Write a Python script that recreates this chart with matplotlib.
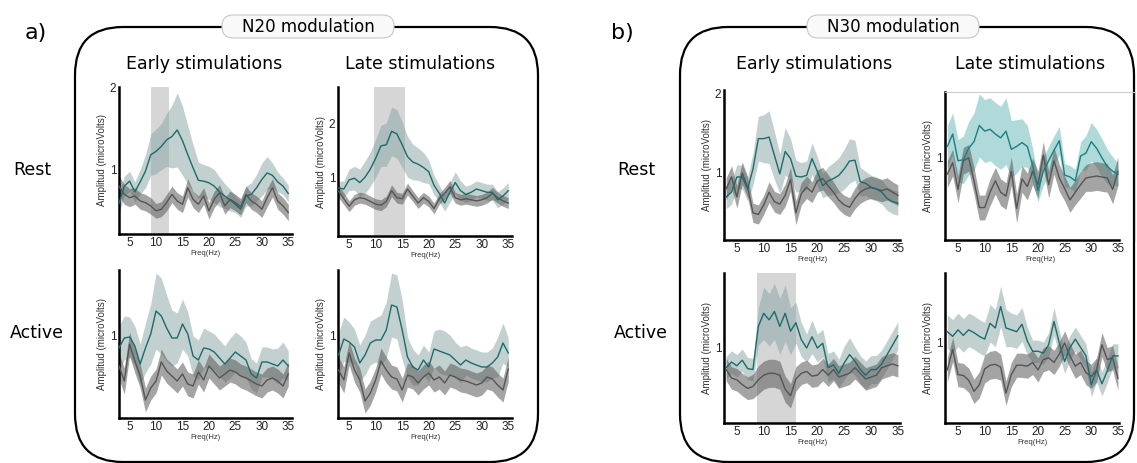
import numpy as np
import matplotlib
matplotlib.use('Agg')
import matplotlib.pyplot as plt
from matplotlib.patches import FancyBboxPatch

W, H = 1137, 463

freqs = np.arange(3, 36)
xticks = [5, 10, 15, 20, 25, 30, 35]

# ---- N20, Rest, Early
n20_rest_early_teal = [0.59, 0.80, 0.86, 0.73, 0.85, 0.98, 1.18, 1.22, 1.28, 1.36, 1.40, 1.48, 1.35, 1.18, 1.02, 0.87, 0.86,
                       0.84, 0.80, 0.73, 0.68, 0.63, 0.58, 0.52, 0.68, 0.70, 0.78, 0.88, 0.96, 0.93, 0.85, 0.80, 0.71]
n20_rest_early_teal_sd = [0.12, 0.12, 0.12, 0.12, 0.15, 0.20, 0.25, 0.27, 0.28, 0.32, 0.38, 0.45, 0.42, 0.35, 0.28, 0.22, 0.20,
                          0.20, 0.20, 0.18, 0.15, 0.13, 0.10, 0.10, 0.12, 0.14, 0.16, 0.20, 0.20, 0.15, 0.12, 0.10, 0.10]
n20_rest_early_grey = [0.80, 0.70, 0.66, 0.68, 0.62, 0.60, 0.56, 0.50, 0.52, 0.60, 0.70, 0.62, 0.58, 0.78, 0.64, 0.58, 0.68,
                       0.50, 0.64, 0.72, 0.56, 0.64, 0.60, 0.55, 0.70, 0.62, 0.58, 0.52, 0.66, 0.78, 0.62, 0.56, 0.48]
n20_rest_early_grey_sd = [0.12, 0.12, 0.11, 0.10, 0.10, 0.10, 0.10, 0.09, 0.09, 0.10, 0.10, 0.10, 0.10, 0.11, 0.10, 0.10, 0.10,
                          0.10, 0.10, 0.10, 0.10, 0.10, 0.10, 0.10, 0.10, 0.10, 0.10, 0.10, 0.11, 0.11, 0.10, 0.10, 0.10]

# ---- N20, Rest, Late
n20_rest_late_teal = [0.80, 0.78, 0.95, 0.98, 0.90, 1.00, 1.15, 1.35, 1.58, 1.60, 1.85, 1.80, 1.60, 1.38, 1.28, 1.24, 1.18,
                      1.10, 0.85, 0.70, 0.52, 0.72, 0.90, 0.75, 0.68, 0.72, 0.78, 0.75, 0.72, 0.72, 0.58, 0.65, 0.75]
n20_rest_late_teal_sd = [0.12, 0.15, 0.20, 0.22, 0.25, 0.30, 0.32, 0.35, 0.38, 0.40, 0.45, 0.45, 0.42, 0.38, 0.33, 0.30, 0.28,
                         0.22, 0.18, 0.15, 0.15, 0.18, 0.20, 0.18, 0.15, 0.15, 0.15, 0.15, 0.15, 0.15, 0.15, 0.15, 0.15]
n20_rest_late_grey = [0.74, 0.60, 0.46, 0.58, 0.62, 0.60, 0.55, 0.50, 0.48, 0.55, 0.75, 0.62, 0.60, 0.78, 0.65, 0.52, 0.62,
                      0.55, 0.42, 0.60, 0.70, 0.82, 0.62, 0.58, 0.60, 0.58, 0.56, 0.58, 0.62, 0.70, 0.62, 0.56, 0.52]
n20_rest_late_grey_sd = [0.12, 0.11, 0.10, 0.10, 0.10, 0.10, 0.10, 0.10, 0.10, 0.10, 0.11, 0.10, 0.10, 0.11, 0.10, 0.10, 0.10,
                         0.10, 0.10, 0.10, 0.11, 0.12, 0.10, 0.10, 0.10, 0.10, 0.10, 0.10, 0.10, 0.11, 0.10, 0.10, 0.10]

# ---- N20, Active, Early
n20_active_early_teal = [0.88, 0.98, 0.99, 0.90, 0.72, 0.88, 1.02, 1.25, 1.20, 1.08, 0.98, 0.98, 1.12, 1.02, 0.80, 0.76, 0.88,
                         0.87, 0.84, 0.78, 0.72, 0.78, 0.84, 0.80, 0.76, 0.62, 0.58, 0.74, 0.74, 0.72, 0.70, 0.76, 0.70]
n20_active_early_teal_sd = [0.22, 0.22, 0.20, 0.20, 0.20, 0.25, 0.30, 0.38, 0.38, 0.33, 0.28, 0.25, 0.25, 0.22, 0.20, 0.20, 0.20,
                            0.18, 0.18, 0.18, 0.18, 0.20, 0.20, 0.20, 0.18, 0.15, 0.15, 0.15, 0.15, 0.15, 0.18, 0.18, 0.15]
n20_active_early_grey = [0.70, 0.55, 0.92, 0.75, 0.60, 0.36, 0.48, 0.55, 0.74, 0.65, 0.60, 0.55, 0.62, 0.52, 0.50, 0.64, 0.56,
                         0.70, 0.64, 0.58, 0.62, 0.66, 0.64, 0.60, 0.58, 0.55, 0.52, 0.50, 0.56, 0.58, 0.55, 0.50, 0.62]
n20_active_early_grey_sd = [0.13, 0.13, 0.12, 0.12, 0.12, 0.12, 0.12, 0.12, 0.13, 0.12, 0.12, 0.12, 0.12, 0.12, 0.12, 0.12, 0.12,
                            0.12, 0.12, 0.12, 0.12, 0.12, 0.12, 0.12, 0.12, 0.12, 0.12, 0.12, 0.12, 0.12, 0.12, 0.12, 0.12]

# ---- N20, Active, Late
n20_active_late_teal = [0.80, 0.96, 0.93, 0.88, 0.72, 0.80, 0.92, 0.95, 0.95, 1.05, 1.30, 1.28, 1.05, 0.78, 0.68, 0.65, 0.75,
                        0.68, 0.86, 0.84, 0.82, 0.80, 0.75, 0.70, 0.75, 0.72, 0.70, 0.68, 0.68, 0.72, 0.78, 0.92, 0.82]
n20_active_late_teal_sd = [0.22, 0.22, 0.20, 0.18, 0.18, 0.20, 0.22, 0.22, 0.25, 0.28, 0.32, 0.32, 0.30, 0.20, 0.18, 0.15, 0.15,
                           0.15, 0.18, 0.22, 0.22, 0.20, 0.18, 0.18, 0.15, 0.15, 0.15, 0.15, 0.15, 0.15, 0.20, 0.20, 0.15]
n20_active_late_grey = [0.65, 0.55, 0.82, 0.65, 0.55, 0.34, 0.42, 0.55, 0.74, 0.65, 0.58, 0.56, 0.45, 0.60, 0.58, 0.52, 0.58,
                        0.62, 0.55, 0.58, 0.52, 0.60, 0.58, 0.55, 0.54, 0.52, 0.50, 0.52, 0.58, 0.56, 0.50, 0.45, 0.66]
n20_active_late_grey_sd = [0.13, 0.13, 0.12, 0.12, 0.12, 0.12, 0.12, 0.12, 0.13, 0.13, 0.12, 0.12, 0.12, 0.12, 0.12, 0.12, 0.12,
                           0.12, 0.12, 0.12, 0.12, 0.12, 0.12, 0.12, 0.12, 0.12, 0.12, 0.12, 0.12, 0.12, 0.12, 0.12, 0.12]

# ---- N30, Rest, Early
n30_rest_early_teal = [0.70, 0.76, 0.95, 0.95, 0.80, 1.05, 1.43, 1.43, 1.45, 1.22, 0.99, 1.27, 1.18, 0.96, 0.95, 0.97, 1.18,
                       1.02, 0.84, 0.90, 0.93, 0.97, 1.05, 1.15, 1.16, 0.89, 0.87, 0.82, 0.80, 0.76, 0.68, 0.64, 0.62]
n30_rest_early_teal_sd = [0.15, 0.15, 0.15, 0.15, 0.15, 0.20, 0.28, 0.30, 0.33, 0.30, 0.25, 0.30, 0.25, 0.20, 0.18, 0.18, 0.20,
                          0.18, 0.15, 0.18, 0.20, 0.22, 0.25, 0.28, 0.25, 0.18, 0.15, 0.15, 0.15, 0.15, 0.15, 0.15, 0.15]
n30_rest_early_grey = [0.80, 0.95, 0.70, 1.00, 0.82, 0.50, 0.48, 0.60, 0.76, 0.64, 0.61, 0.72, 0.92, 0.50, 0.74, 0.82, 0.76,
                       0.90, 0.93, 0.84, 0.76, 0.66, 0.60, 0.57, 0.68, 0.76, 0.80, 0.82, 0.80, 0.78, 0.80, 0.76, 0.72]
n30_rest_early_grey_sd = [0.14, 0.14, 0.14, 0.14, 0.13, 0.12, 0.12, 0.12, 0.13, 0.13, 0.13, 0.14, 0.15, 0.15, 0.14, 0.14, 0.13,
                          0.14, 0.14, 0.14, 0.13, 0.12, 0.12, 0.12, 0.13, 0.14, 0.14, 0.14, 0.14, 0.14, 0.14, 0.13, 0.13]

# ---- N30, Rest, Late
n30_rest_late_teal = [1.12, 1.25, 0.97, 0.98, 1.10, 1.17, 1.34, 1.28, 1.30, 1.25, 1.21, 1.28, 1.09, 1.12, 1.16, 1.12, 0.92,
                      0.66, 0.86, 0.97, 1.08, 1.18, 0.82, 0.80, 0.76, 1.02, 1.05, 1.17, 1.10, 1.00, 0.91, 0.86, 0.83]
n30_rest_late_teal_sd = [0.22, 0.22, 0.22, 0.25, 0.28, 0.30, 0.33, 0.33, 0.33, 0.33, 0.33, 0.35, 0.30, 0.28, 0.25, 0.22, 0.18,
                         0.12, 0.15, 0.15, 0.15, 0.15, 0.12, 0.12, 0.12, 0.15, 0.18, 0.20, 0.20, 0.20, 0.18, 0.15, 0.12]
n30_rest_late_grey = [0.83, 0.95, 0.67, 0.97, 1.00, 0.76, 0.48, 0.48, 0.64, 0.76, 0.64, 0.60, 0.86, 0.47, 0.78, 0.70, 0.86,
                      0.72, 1.03, 0.72, 0.97, 0.79, 0.68, 0.56, 0.64, 0.72, 0.79, 0.80, 0.81, 0.80, 0.79, 0.67, 0.86]
n30_rest_late_grey_sd = [0.14, 0.14, 0.14, 0.14, 0.14, 0.14, 0.13, 0.13, 0.14, 0.14, 0.14, 0.14, 0.15, 0.15, 0.14, 0.14, 0.14,
                         0.14, 0.14, 0.14, 0.14, 0.14, 0.13, 0.13, 0.13, 0.14, 0.14, 0.15, 0.15, 0.15, 0.15, 0.15, 0.15]

# ---- N30, Active, Early
n30_active_early_teal = [0.78, 0.84, 0.80, 0.86, 0.77, 0.76, 1.22, 1.36, 1.29, 1.38, 1.22, 1.36, 1.17, 1.26, 1.08, 0.99, 1.11,
                         0.99, 1.04, 0.78, 0.81, 0.72, 0.83, 0.92, 0.85, 0.76, 0.70, 0.76, 0.76, 0.82, 0.92, 1.02, 1.12]
n30_active_early_teal_sd = [0.12, 0.12, 0.12, 0.12, 0.12, 0.12, 0.20, 0.28, 0.28, 0.30, 0.30, 0.30, 0.25, 0.22, 0.18, 0.15, 0.18,
                            0.15, 0.15, 0.15, 0.15, 0.15, 0.18, 0.18, 0.15, 0.15, 0.15, 0.15, 0.15, 0.15, 0.15, 0.15, 0.15]
n30_active_early_grey = [0.76, 0.67, 0.65, 0.60, 0.56, 0.58, 0.65, 0.70, 0.72, 0.72, 0.70, 0.55, 0.48, 0.66, 0.72, 0.74, 0.69,
                         0.70, 0.76, 0.70, 0.76, 0.68, 0.70, 0.72, 0.78, 0.72, 0.66, 0.68, 0.70, 0.78, 0.80, 0.82, 0.80]
n30_active_early_grey_sd = [0.12, 0.12, 0.12, 0.12, 0.12, 0.13, 0.15, 0.15, 0.15, 0.15, 0.15, 0.14, 0.13, 0.13, 0.12, 0.12, 0.12,
                            0.12, 0.12, 0.12, 0.12, 0.12, 0.12, 0.12, 0.12, 0.12, 0.12, 0.12, 0.12, 0.12, 0.12, 0.12, 0.12]

# ---- N30, Active, Late
n30_active_late_teal = [1.12, 1.07, 1.14, 1.08, 1.14, 1.11, 1.07, 1.04, 1.21, 1.16, 1.39, 1.16, 1.14, 1.12, 1.20, 1.02, 0.91,
                        0.91, 0.89, 0.98, 1.23, 1.00, 0.80, 0.95, 1.04, 0.95, 0.86, 0.55, 0.71, 0.56, 0.70, 0.86, 0.86]
n30_active_late_teal_sd = [0.18, 0.18, 0.18, 0.18, 0.18, 0.18, 0.18, 0.18, 0.20, 0.20, 0.22, 0.20, 0.18, 0.18, 0.18, 0.15, 0.12,
                           0.12, 0.12, 0.13, 0.15, 0.13, 0.13, 0.13, 0.13, 0.13, 0.13, 0.13, 0.13, 0.13, 0.13, 0.13, 0.13]
n30_active_late_grey = [0.71, 0.93, 0.66, 0.65, 0.60, 0.48, 0.55, 0.72, 0.76, 0.77, 0.74, 0.46, 0.66, 0.76, 0.76, 0.75, 0.79,
                        0.71, 0.82, 0.84, 0.79, 0.88, 1.00, 0.86, 0.75, 0.79, 0.68, 0.64, 0.71, 0.98, 0.82, 0.84, 0.62]
n30_active_late_grey_sd = [0.13, 0.13, 0.13, 0.13, 0.13, 0.13, 0.14, 0.15, 0.15, 0.15, 0.14, 0.13, 0.13, 0.13, 0.13, 0.13, 0.13,
                           0.13, 0.13, 0.13, 0.13, 0.13, 0.13, 0.13, 0.13, 0.13, 0.13, 0.13, 0.13, 0.13, 0.13, 0.13, 0.13]

fig = plt.figure(figsize=(W / 100, H / 100), dpi=100)

# overlay in pixel units for boxes and labels
bg = fig.add_axes([0, 0, 1, 1], zorder=-1)
bg.set_xlim(0, W)
bg.set_ylim(H, 0)
bg.axis('off')

for (x0, x1) in [(75, 538), (680, 1134)]:
    bg.add_patch(FancyBboxPatch((x0, 27), x1 - x0, 462 - 27,
                                boxstyle='round,pad=0,rounding_size=48',
                                fc='none', ec='black', lw=1.6))

for cx, txt in [(308, 'N20 modulation'), (893, 'N30 modulation')]:
    bg.add_patch(FancyBboxPatch((cx - 86, 15), 172, 23,
                                boxstyle='round,pad=0,rounding_size=11',
                                fc='#f9f9f9', ec='#c8c8c8', lw=0.8, zorder=3))
    bg.text(cx, 27, txt, ha='center', va='center', fontsize=12, zorder=4)

bg.text(36, 33, 'a)', ha='center', va='center', fontsize=16)
bg.text(622, 33, 'b)', ha='center', va='center', fontsize=16)

for cx, txt in [(204, 'Early stimulations'), (420, 'Late stimulations'),
                (814, 'Early stimulations'), (1030, 'Late stimulations')]:
    bg.text(cx, 64, txt, ha='center', va='center', fontsize=12.5)

for x in (32, 636):
    bg.text(x, 170, 'Rest', ha='center', va='center', fontsize=12.5)
    bg.text(x + 5, 333, 'Active', ha='center', va='center', fontsize=12.5)


def panel(l, t, r, b, xlim, ylim, yticks, teal, teal_sd, grey, grey_sd, shade=None, boxed=False):
    ax = fig.add_axes([l / W, 1 - b / H, (r - l) / W, (b - t) / H])
    teal = np.array(teal); teal_sd = np.array(teal_sd)
    grey = np.array(grey); grey_sd = np.array(grey_sd)
    if shade is not None:
        ax.axvspan(shade[0], shade[1], color='#d6d6d6', lw=0, zorder=0)
    if boxed:
        tfill, tline = '#62b4b4', '#1b7f80'
    else:
        tfill, tline = '#86a3a3', '#1d6b6b'
    ax.fill_between(freqs, teal - teal_sd, teal + teal_sd, color=tfill, alpha=0.5, lw=0, zorder=1)
    ax.fill_between(freqs, grey - grey_sd, grey + grey_sd, color='#5a5a5a', alpha=0.55, lw=0, zorder=2)
    ax.plot(freqs, teal, color=tline, lw=1.0, zorder=4)
    ax.plot(freqs, grey, color='#555555', lw=1.0, zorder=3)
    ax.set_xlim(*xlim)
    ax.set_ylim(*ylim)
    ax.set_xticks(xticks)
    ax.set_yticks(yticks)
    ax.set_yticklabels([str(v) for v in yticks])
    ax.tick_params(length=0, labelsize=8.5, labelcolor='#222222', pad=2)
    for lab in ax.get_xticklabels() + ax.get_yticklabels():
        lab.set_family('Liberation Sans')
    ax.set_xlabel('Freq(Hz)', fontsize=5.5, family='Liberation Sans', color='#333333', labelpad=1)
    ax.set_ylabel('Amplitud (microVolts)', fontsize=7, family='Liberation Sans', color='#333333', labelpad=2)
    ax.spines['left'].set_linewidth(1.8)
    ax.spines['bottom'].set_linewidth(1.8)
    if boxed:
        ax.spines['top'].set_color('#cccccc')
        ax.spines['right'].set_color('#cccccc')
        ax.spines['top'].set_linewidth(0.8)
        ax.spines['right'].set_linewidth(0.8)
        ax.spines['bottom'].set_bounds(xlim[0], 35.2)
    else:
        ax.spines['top'].set_visible(False)
        ax.spines['right'].set_visible(False)
    ax.patch.set_alpha(0)
    return ax


panel(119, 87, 292, 234, (3.0, 35.7), (0.22, 2.0), [1, 2],
      n20_rest_early_teal, n20_rest_early_teal_sd, n20_rest_early_grey, n20_rest_early_grey_sd, shade=(9.0, 12.5))
panel(338, 87, 512, 236, (2.9, 35.7), (-0.09, 2.67), [1, 2],
      n20_rest_late_teal, n20_rest_late_teal_sd, n20_rest_late_grey, n20_rest_late_grey_sd, shade=(9.7, 15.6))
panel(119, 270, 292, 418, (3.0, 35.7), (0.18, 1.66), [1],
      n20_active_early_teal, n20_active_early_teal_sd, n20_active_early_grey, n20_active_early_grey_sd)
panel(338, 270, 512, 418, (2.9, 35.7), (0.17, 1.65), [1],
      n20_active_late_teal, n20_active_late_teal_sd, n20_active_late_grey, n20_active_late_grey_sd)
panel(724, 90, 900, 240, (2.6, 35.4), (0.16, 2.04), [1, 2],
      n30_rest_early_teal, n30_rest_early_teal_sd, n30_rest_early_grey, n30_rest_early_grey_sd)
panel(945, 92, 1135, 240, (2.56, 38.2), (0.14, 1.69), [1],
      n30_rest_late_teal, n30_rest_late_teal_sd, n30_rest_late_grey, n30_rest_late_grey_sd, boxed=True)
panel(724, 273, 900, 423, (2.6, 35.4), (0.19, 1.79), [1],
      n30_active_early_teal, n30_active_early_teal_sd, n30_active_early_grey, n30_active_early_grey_sd, shade=(8.7, 16.0))
panel(945, 273, 1119, 423, (2.56, 35.2), (0.14, 1.75), [1],
      n30_active_late_teal, n30_active_late_teal_sd, n30_active_late_grey, n30_active_late_grey_sd)

fig.savefig('out.png', dpi=100)
